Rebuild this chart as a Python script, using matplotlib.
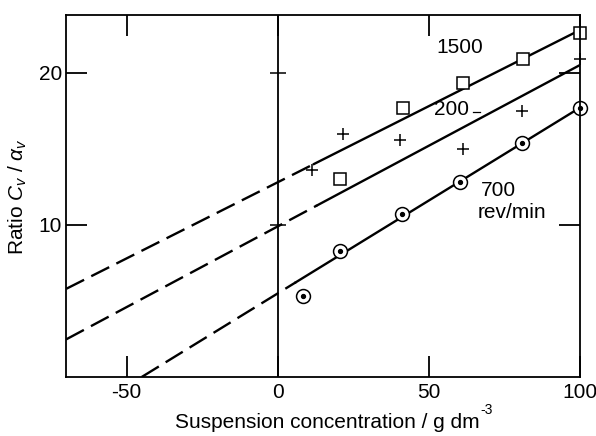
import numpy as np
import matplotlib
matplotlib.use("Agg")
import matplotlib.pyplot as plt

plt.rcParams["font.family"] = ["Liberation Sans", "DejaVu Sans"]
plt.rcParams["mathtext.fontset"] = "custom"
plt.rcParams["mathtext.it"] = "Liberation Sans:italic"
plt.rcParams["mathtext.rm"] = "Liberation Sans"
plt.rcParams["axes.unicode_minus"] = False

# data points
x_sq = [20.5, 41.4, 61.3, 81.1, 100]          # 1500 rev/min
y_sq = [13.0, 17.7, 19.3, 20.9, 22.6]
x_plus = [11.3, 21.5, 40.4, 61.3, 80.8, 100]  # 200 rev/min
y_plus = [13.6, 16.0, 15.6, 15.0, 17.5, 20.9]
x_circ = [8.3, 20.5, 41.0, 60.3, 80.8, 100]   # 700 rev/min
y_circ = [5.3, 8.3, 10.7, 12.85, 15.4, 17.7]

# fitted lines: (intercept, slope, start of solid part, start of dashed part)
fits = {
    "1500": (12.8, 0.100, 12, -70),
    "200": (9.9, 0.106, 13, -70),
    "700": (5.5, 0.122, 6, -45),
}

FS = 15

fig = plt.figure(figsize=(5.96, 4.36), dpi=100)
ax = fig.add_axes([0.111, 0.135, 0.862, 0.831])

for name, (b, m, xs, x0) in fits.items():
    xd = np.array([x0, xs])
    ax.plot(xd, b + m * xd, color="black", lw=1.7, dashes=(8.5, 3.4))
    xl = np.array([xs, 100])
    ax.plot(xl, b + m * xl, color="black", lw=1.7)

ax.plot(x_sq, y_sq, "s", ms=9, mfc="white", mec="black", mew=1.1, clip_on=False)
ax.plot(x_plus, y_plus, "+", ms=9, color="black", mew=1.1, clip_on=False)
ax.plot(x_circ, y_circ, "o", ms=10, mfc="white", mec="black", mew=1.1, clip_on=False)
ax.plot(x_circ, y_circ, "o", ms=2.8, color="black", clip_on=False)

ax.axvline(0, color="black", lw=1.3)
ax.plot([0, 0], [10, 20], "_", ms=12, color="black", mew=1.1)

ax.text(60.3, 21.65, "1500", fontsize=FS, ha="center", va="center")
ax.text(57.6, 17.55, "200", fontsize=FS, ha="center", va="center")
ax.plot([64.5, 67], [17.4, 17.4], color="black", lw=0.9)
ax.text(73, 12.25, "700", fontsize=FS, ha="center", va="center")
ax.text(77.5, 10.8, "rev/min", fontsize=FS, ha="center", va="center")

ax.set_xlim(-70, 100)
ax.set_ylim(0, 23.8)
ax.set_xticks([-50, 0, 50, 100])
ax.set_yticks([10, 20])
ax.tick_params(direction="in", length=15, width=1.3, top=True, right=True,
               labelsize=FS)
ax.tick_params(axis="x", pad=4)
ax.tick_params(axis="y", pad=3)
for s in ax.spines.values():
    s.set_linewidth(1.3)

xlab = fig.text(327 / 596, 1 - 428 / 436, "Suspension concentration / g dm",
                fontsize=FS, ha="center", va="baseline")
fig.text(18 / 596, 1 - 197 / 436, "Ratio $C_v$ / $\\alpha_v$",
         fontsize=FS, ha="center", va="center", rotation=90)

# superscript placed after the label once its size is known
fig.canvas.draw()
bb = xlab.get_window_extent()
W, H = fig.bbox.width, fig.bbox.height
fig.text((bb.x1 + 1) / W, (bb.y1 - 4) / H, "-3", fontsize=10,
         ha="left", va="bottom")

fig.savefig("out.png", dpi=100)
